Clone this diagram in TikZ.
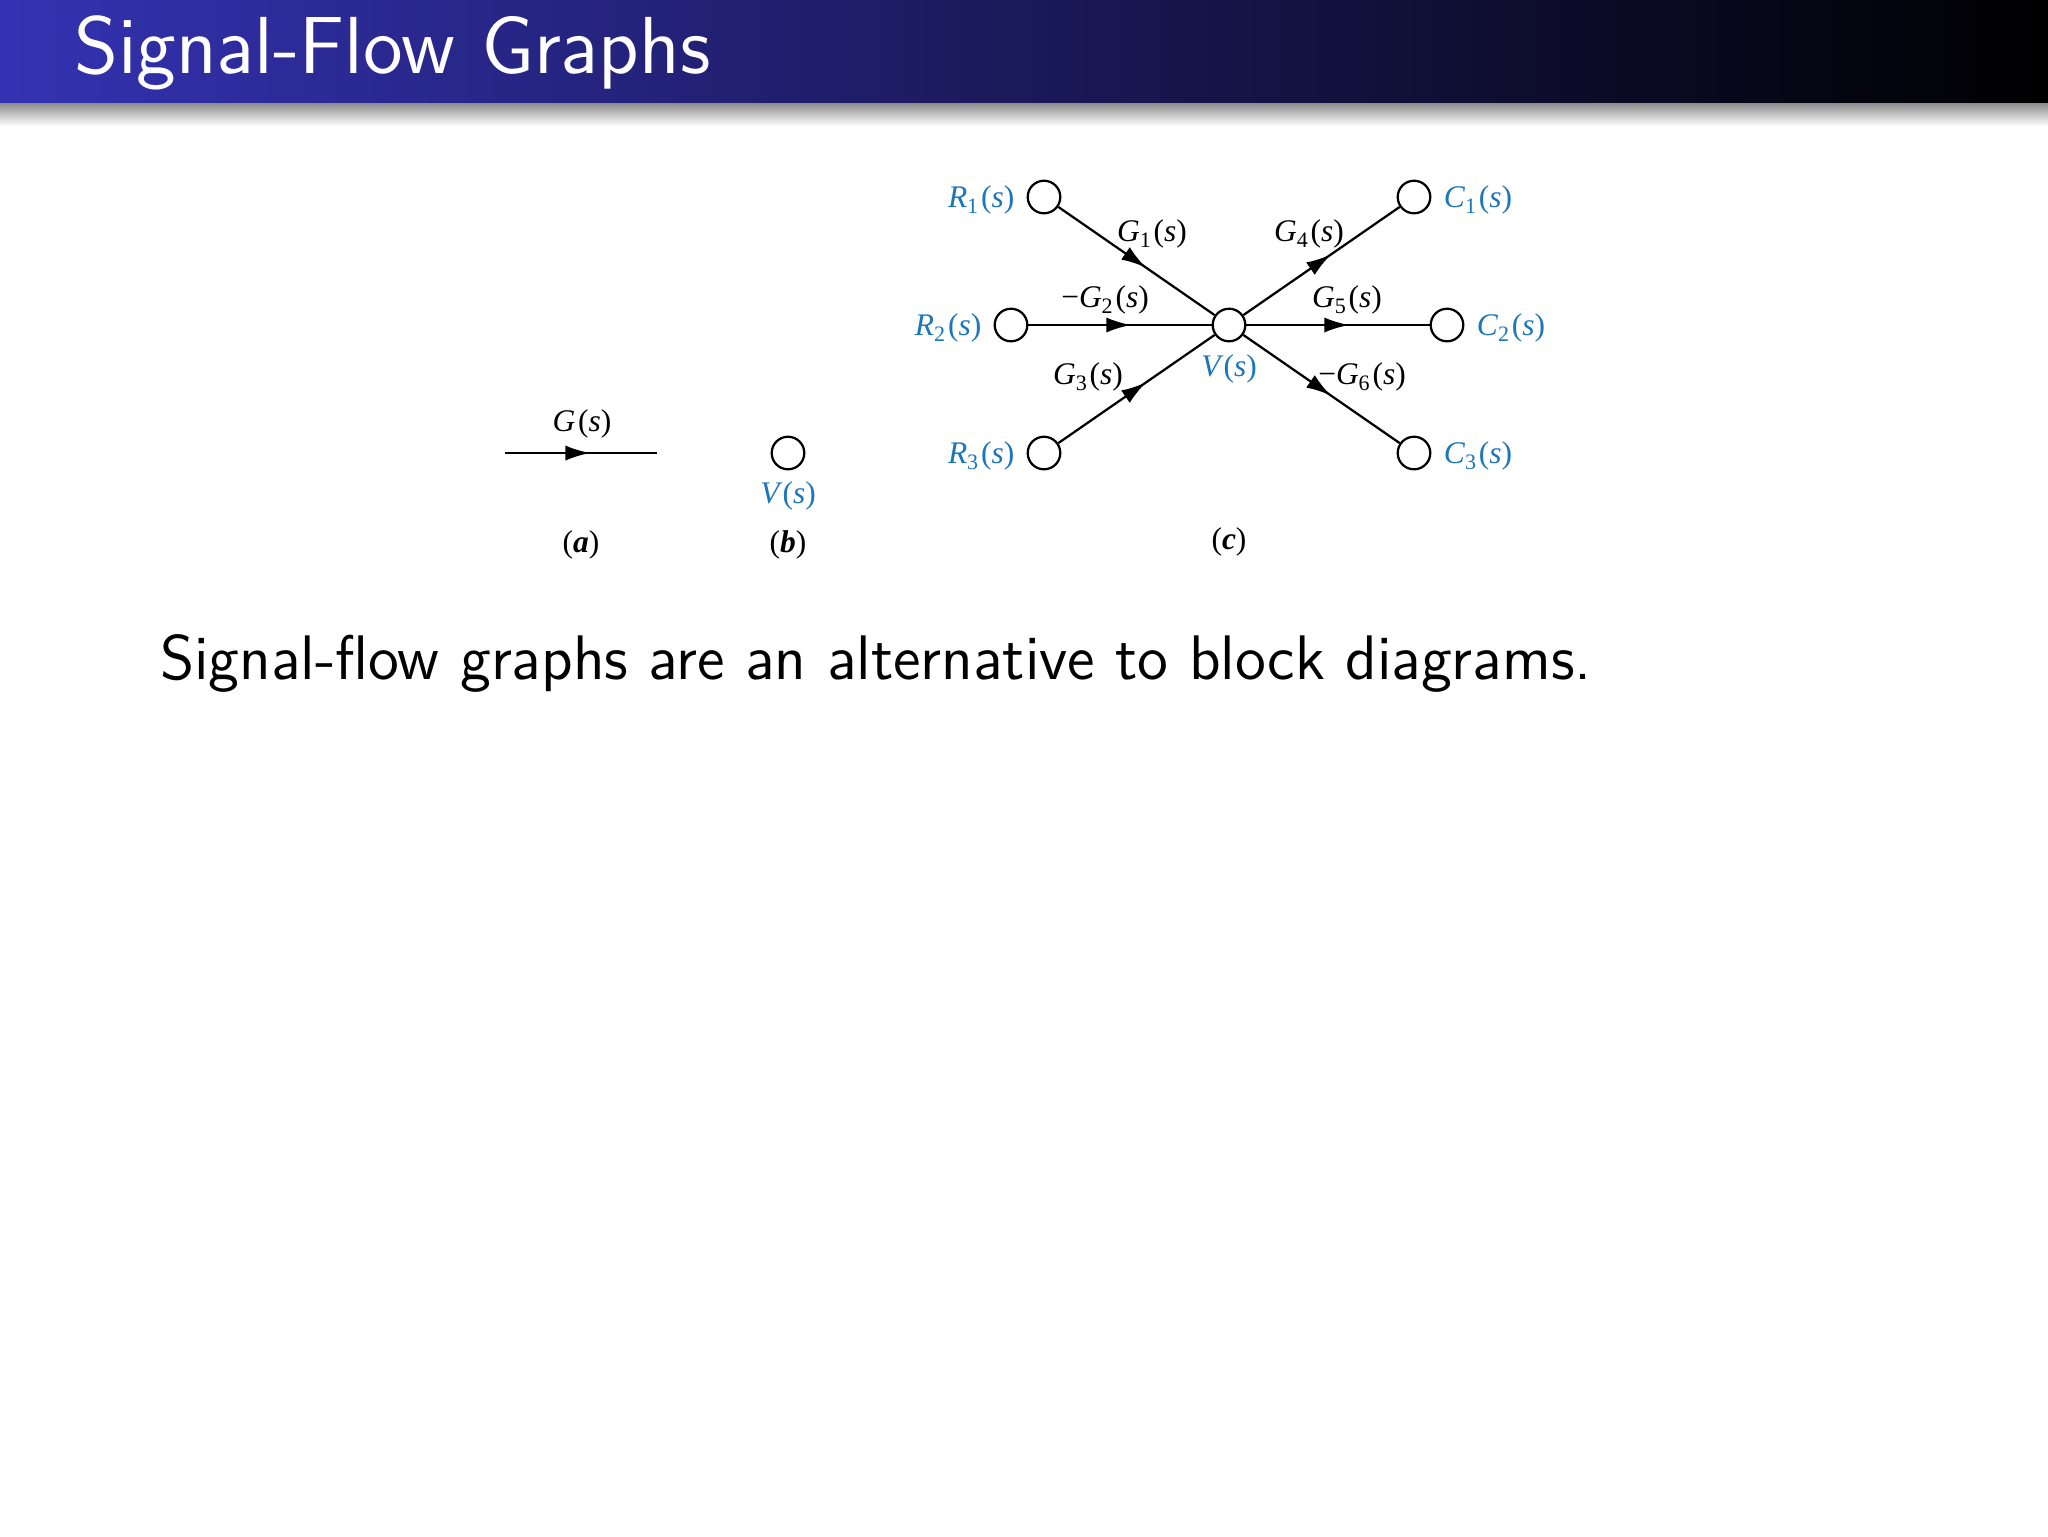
\documentclass[tikz,border=0pt]{standalone}
\usepackage{fontspec}
\newfontfamily\figfont{Liberation Serif}
\usetikzlibrary{arrows.meta,decorations.markings}
\definecolor{sigblue}{RGB}{28,118,188}
\definecolor{barleft}{RGB}{52,50,178}
\definecolor{barmid}{RGB}{28,26,100}
\newcommand{\gsig}[2]{\textit{#1}\textsubscript{#2}(\textit{s})}
\newcommand{\plbl}[1]{(\textbf{\textit{#1}})}
\tikzset{
  sfnode/.style={circle,draw,line width=0.4pt,minimum size=5.8pt,inner sep=0pt},
  branch/.style={line width=0.4pt,postaction={decorate},
    decoration={markings,mark=at position 0.56 with {\arrow{Latex[length=4.4pt,width=2.7pt]}}}},
  sig/.style={text=sigblue,font=\figfont\fontsize{5.6}{6}\selectfont,inner sep=0pt},
  gain/.style={font=\figfont\fontsize{5.6}{6}\selectfont,inner sep=0pt},
}
\begin{document}
\begin{tikzpicture}[x=0.00625cm,y=-0.00625cm]
\useasboundingbox (0,0) rectangle (2048,1536);
\fill[white] (0,0) rectangle (2048,1536);
% title bar
\shade[left color=barleft,middle color=barmid,right color=black] (0,0) rectangle (2048,103);
\shade[top color=black!45,bottom color=white] (0,103) rectangle (2048,126);
\node[anchor=base west,text=white,inner sep=0pt,font=\sffamily\fontsize{14.4}{17}\selectfont] (title) at (73,73) {Signal-Flow Graphs};

% (a) branch
\coordinate (a1) at (505,453);
\coordinate (a2) at (657,453);
\draw[branch] (a1) -- (a2);
\node[gain] (ga) at (582,424) {\gsig{G}{}};
\node[gain] (la) at (581,545) {\plbl{a}};

% (b) node
\node[sfnode] (vb) at (788,453) {};
\node[sig] (vbl) at (788,496) {\textit{V}(\textit{s})};
\node[gain] (lb) at (788,545) {\plbl{b}};

% (c) graph
\node[sfnode] (v) at (1229,325) {};
\node[sig] (vl) at (1229,369) {\textit{V}(\textit{s})};
\foreach \i/\x/\y in {1/1044/197,2/1011/325,3/1044/453}
{
\node[sfnode] (r\i) at (\x,\y) {};
\node[sig,anchor=east] (rl\i) at ([xshift=-2pt,yshift=-0.5pt]r\i.west) {\gsig{R}{\i}};
\draw[branch] (r\i) -- (v);
}
\foreach \i/\x/\y in {1/1414/197,2/1447/325,3/1414/453}
{
\node[sfnode] (c\i) at (\x,\y) {};
\node[sig,anchor=west] (cl\i) at ([xshift=2pt,yshift=-0.5pt]c\i.east) {\gsig{C}{\i}};
\draw[branch] (v) -- (c\i);
}
\node[gain] (g1) at (1152,234) {\gsig{G}{1}};
\node[gain] (g2) at (1105,300) {−\gsig{G}{2}};
\node[gain] (g3) at (1088,377) {\gsig{G}{3}};
\node[gain] (g4) at (1309,234) {\gsig{G}{4}};
\node[gain] (g5) at (1347,300) {\gsig{G}{5}};
\node[gain] (g6) at (1362,377) {−\gsig{G}{6}};
\node[gain] (lc) at (1229,542) {\plbl{c}};

% body text
\node[anchor=base west,inner sep=0pt,font=\sffamily\fontsize{11.2}{13}\selectfont] (txt) at (159,679) {Signal-flow graphs are an alternative to block diagrams.};
\end{tikzpicture}
\end{document}
